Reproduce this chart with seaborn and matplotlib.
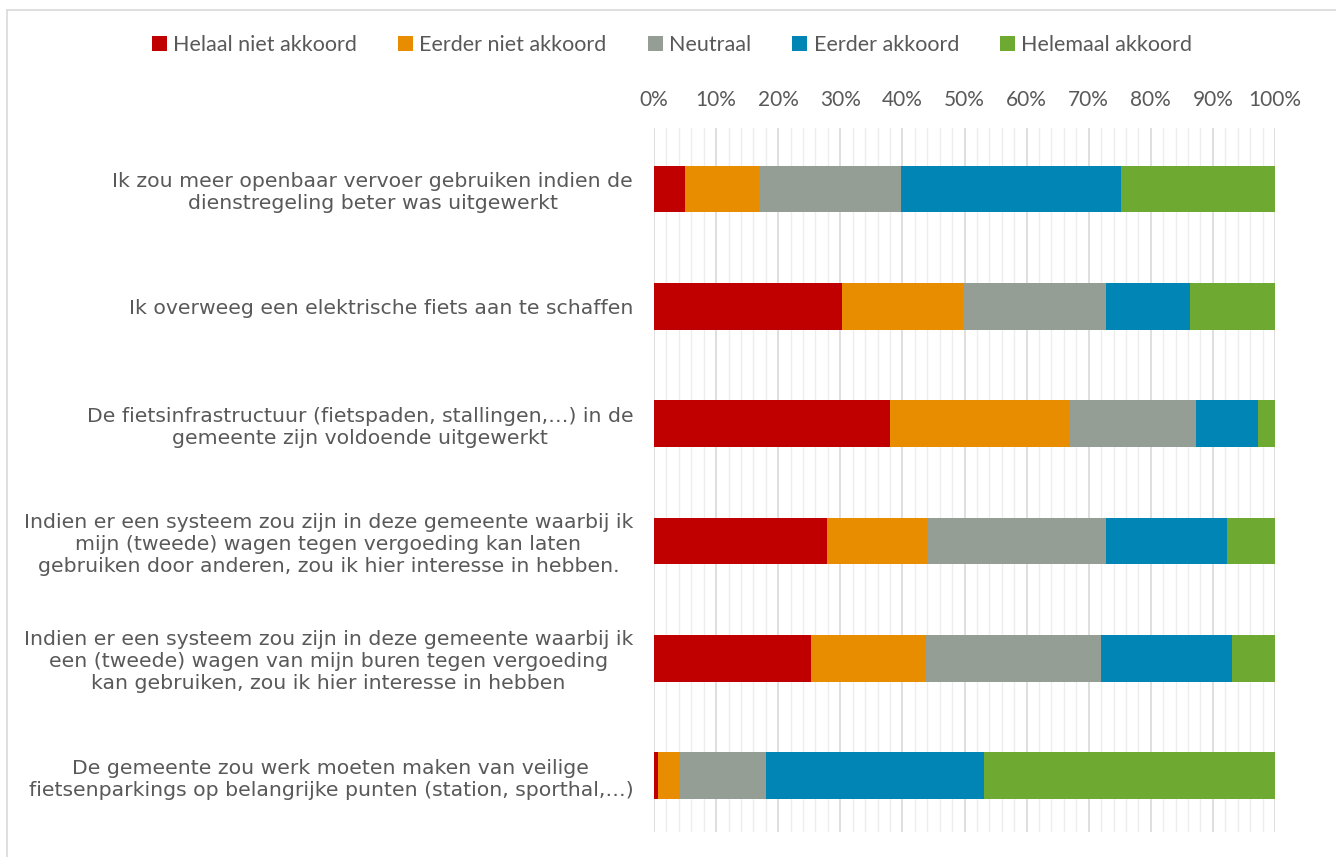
import numpy as np
import pandas as pd
import seaborn as sns
import matplotlib.pyplot as plt
from matplotlib.patches import Patch
from matplotlib.lines import Line2D
from matplotlib.ticker import MultipleLocator, PercentFormatter

categories = [
    "Ik zou meer openbaar vervoer gebruiken indien de\ndienstregeling beter was uitgewerkt",
    "Ik overweeg een elektrische fiets aan te schaffen",
    "De fietsinfrastructuur (fietspaden, stallingen,…) in de\ngemeente zijn voldoende uitgewerkt",
    "Indien er een systeem zou zijn in deze gemeente waarbij ik\nmijn (tweede) wagen tegen vergoeding kan laten\ngebruiken door anderen, zou ik hier interesse in hebben.",
    "Indien er een systeem zou zijn in deze gemeente waarbij ik\neen (tweede) wagen van mijn buren tegen vergoeding\nkan gebruiken, zou ik hier interesse in hebben",
    "De gemeente zou werk moeten maken van veilige\nfietsenparkings op belangrijke punten (station, sporthal,…)",
]
series_names = ["Helaal niet akkoord", "Eerder niet akkoord", "Neutraal",
                "Eerder akkoord", "Helemaal akkoord"]
helaal_niet = [5.0, 30.3, 38.0, 27.9, 25.3, 0.7]
eerder_niet = [11.9, 19.5, 29.0, 16.1, 18.5, 3.5]
neutraal = [22.9, 23.0, 20.3, 28.8, 28.2, 13.8]
eerder_akkoord = [35.4, 13.5, 10.0, 19.5, 21.1, 35.1]
helemaal_akkoord = [24.8, 13.7, 2.7, 7.7, 6.9, 46.9]

colors = ["#C00000", "#E88C00", "#959E95", "#0085B5", "#6EAA31"]

df = pd.DataFrame({
    "vraag": categories,
    series_names[0]: helaal_niet,
    series_names[1]: eerder_niet,
    series_names[2]: neutraal,
    series_names[3]: eerder_akkoord,
    series_names[4]: helemaal_akkoord,
})
cum = df[series_names].cumsum(axis=1)
cum["vraag"] = df["vraag"]

sns.set_theme(style="white")
plt.rcParams["font.family"] = ["Lato", "DejaVu Sans"]

fig = plt.figure(figsize=(13.36, 8.57), dpi=100)
ax = fig.add_axes([654 / 1336, 1 - 832 / 857, 621 / 1336, 704 / 857])

# stacked bars: draw cumulative totals from the largest down
for name, col in reversed(list(zip(series_names, colors))):
    sns.barplot(data=cum, y="vraag", x=name, color=col, orient="h",
                width=0.4, saturation=1, ax=ax, zorder=3, linewidth=0)

ax.set_xlim(0, 100)
ax.set_ylim(5.48, -0.52)
ax.xaxis.set_major_locator(MultipleLocator(10))
ax.xaxis.set_minor_locator(MultipleLocator(2))
ax.xaxis.set_major_formatter(PercentFormatter(decimals=0))
ax.grid(axis="x", which="major", color="#d9d9d9", linewidth=1.2, zorder=0)
ax.grid(axis="x", which="minor", color="#ededed", linewidth=1.0, zorder=0)
ax.set_axisbelow(True)
ax.xaxis.tick_top()
ax.tick_params(axis="x", which="both", length=0, pad=13, labelsize=15,
               labelcolor="#595959")
ax.tick_params(axis="y", length=0, pad=15, labelcolor="#595959")
for t in ax.get_yticklabels():
    t.set_multialignment("center")
    t.set_fontfamily("DejaVu Sans")
    t.set_fontsize(14.7)
    t.set_linespacing(1.2)
ax.set_xlabel("")
ax.set_ylabel("")
for s in ax.spines.values():
    s.set_visible(False)

handles = [Patch(facecolor=c, edgecolor="none") for c in colors]
fig.legend(handles, series_names, loc="center", bbox_to_anchor=(0.503, 1 - 45 / 857),
           ncol=5, frameon=False, fontsize=15.5, labelcolor="#595959",
           handlelength=0.7, handleheight=0.7, handletextpad=0.3,
           columnspacing=1.9)

fig.add_artist(Line2D([7 / 1336, 7 / 1336], [0, 1 - 10 / 857], color="#d9d9d9", linewidth=1.2))
fig.add_artist(Line2D([7 / 1336, 1], [1 - 10 / 857, 1 - 10 / 857], color="#d9d9d9", linewidth=1.2))

fig.savefig("out.png", dpi=100)
